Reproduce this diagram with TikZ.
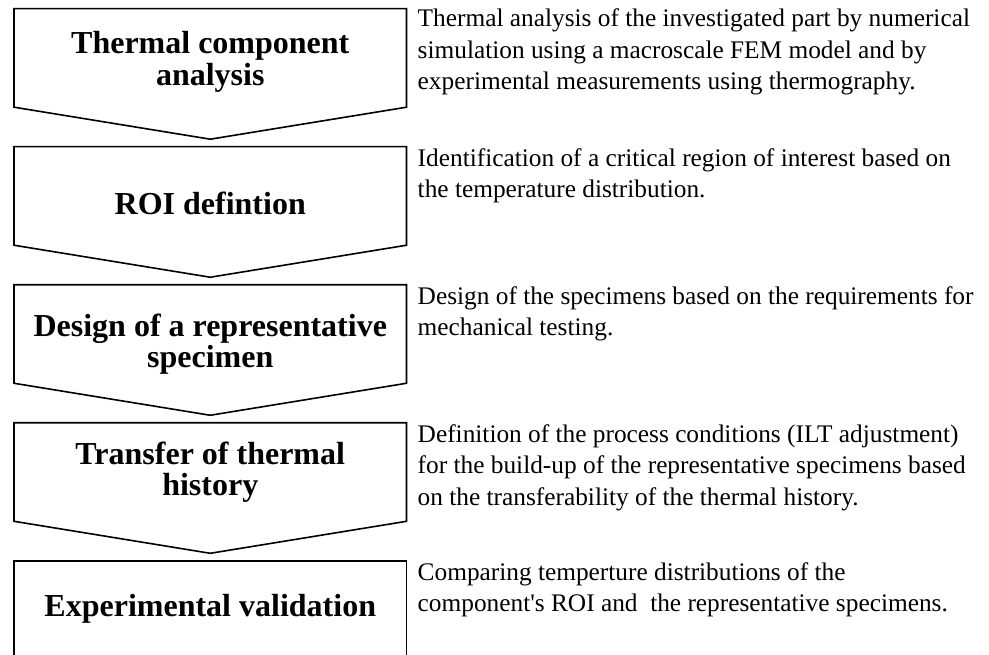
\documentclass[tikz,border=0pt]{standalone}
\usepackage{fontspec}
\setmainfont{Liberation Serif}
\usetikzlibrary{positioning, calc}
\tikzstyle{stage} = [rectangle, minimum width=294pt, minimum height=73.5pt, inner sep=0pt]
\tikzstyle{title} = [inner sep=0pt, align=center, font=\fontsize{24}{23.5}\selectfont\bfseries]
\tikzstyle{note} = [inner sep=0pt, align=left, font=\fontsize{19}{23.6}\selectfont]
\tikzstyle{chevron} = [draw, line width=1.2pt, line join=miter]

\begin{document}
\begin{tikzpicture}
    \useasboundingbox (0,0) rectangle (741.75pt,-491.25pt);
    \clip (0,0) rectangle (741.75pt,-491.25pt);

    % Stage boxes
    \node[stage, anchor=north west] (thermal) at (10.5pt,-6.5pt) {};
    \node[stage, below=29.625pt of thermal] (roi) {};
    \node[stage, below=29.625pt of roi] (design) {};
    \node[stage, below=29.625pt of design] (transfer) {};
    \node[stage, below=29.625pt of transfer] (valid) {};

    % Chevron outlines
    \draw[chevron] (thermal.north west) -- (thermal.north east) -- (thermal.south east) -- ($(thermal.south)+(0,-24pt)$) -- (thermal.south west) -- cycle;
    \draw[chevron] (roi.north west) -- (roi.north east) -- (roi.south east) -- ($(roi.south)+(0,-24pt)$) -- (roi.south west) -- cycle;
    \draw[chevron] (design.north west) -- (design.north east) -- (design.south east) -- ($(design.south)+(0,-24pt)$) -- (design.south west) -- cycle;
    \draw[chevron] (transfer.north west) -- (transfer.north east) -- (transfer.south east) -- ($(transfer.south)+(0,-24pt)$) -- (transfer.south west) -- cycle;
    \draw[chevron] (valid.south west) -- (valid.north west) -- (valid.north east) -- (valid.south east);

    % Stage titles
    \node[title, below=17.1pt of thermal.north] (thermaltitle) {Thermal component\\analysis};
    \node[title, below=34pt of roi.north] (roititle) {ROI defintion};
    \node[title, below=21.6pt of design.north] (designtitle) {Design of a representative\\specimen};
    \node[title, below=14pt of transfer.north] (transfertitle) {Transfer of thermal\\history};
    \node[title, below=24.6pt of valid.north] (validtitle) {Experimental validation};

    % Descriptions
    \node[note, below right=0pt and 8.2pt of thermal.north east] (thermaltxt) {Thermal analysis of the investigated part by numerical\\simulation using a macroscale FEM model and by\\experimental measurements using thermography.};
    \node[note, below right=1pt and 8.2pt of roi.north east] (roitxt) {Identification of a critical region of interest based on\\the temperature distribution.};
    \node[note, below right=1pt and 8.2pt of design.north east] (designtxt) {Design of the specimens based on the requirements for\\mechanical testing.};
    \node[note, below right=1pt and 8.2pt of transfer.north east] (transfertxt) {Definition of the process conditions (ILT adjustment)\\for the build-up of the representative specimens based\\on the transferability of the thermal history.};
    \node[note, below right=1pt and 8.2pt of valid.north east] (validtxt) {Comparing temperture distributions of the\\component\textquotesingle s ROI and~ the representative specimens.};
\end{tikzpicture}
\end{document}
